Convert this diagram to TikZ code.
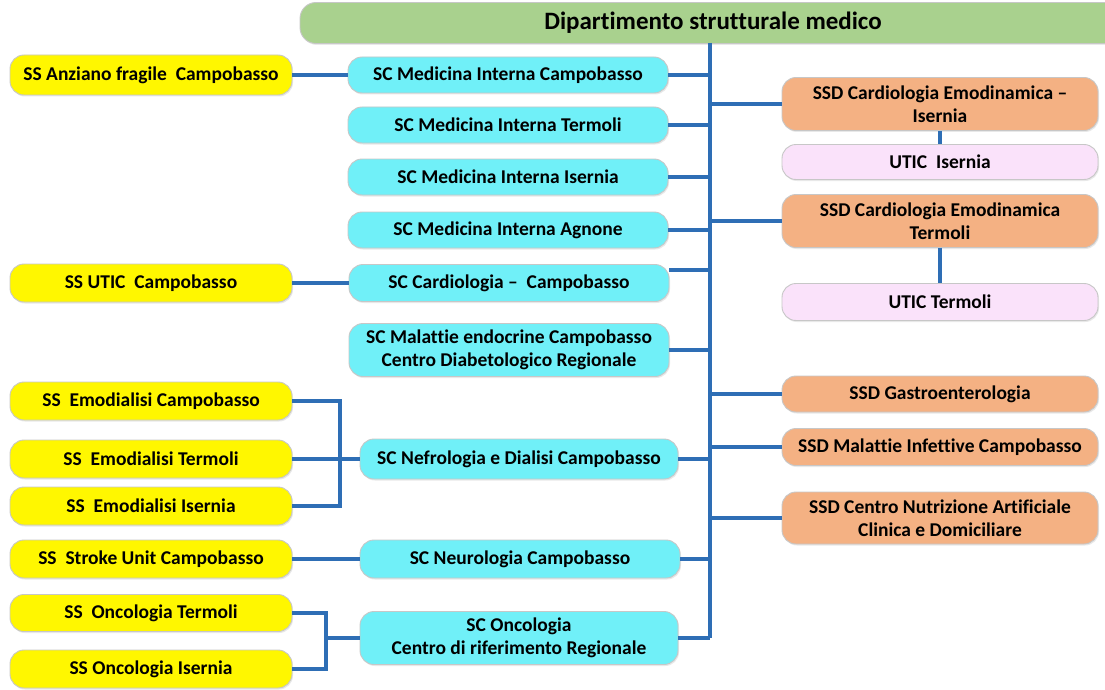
\documentclass[tikz,border=0pt]{standalone}
\usepackage{fontspec}
\setmainfont{Carlito}[Ligatures=NoCommon]
\usetikzlibrary{shadows}

\definecolor{hdrgreen}{RGB}{169,209,142}
\definecolor{ssyellow}{RGB}{255,247,0}
\definecolor{sccyan}{RGB}{112,240,248}
\definecolor{ssdorange}{RGB}{244,177,131}
\definecolor{uticpink}{RGB}{250,226,250}
\definecolor{linkblue}{RGB}{46,110,181}

\tikzset{
  unit/.style={rounded corners=14pt, draw=black!22, line width=0.9pt,
    font=\bfseries\fontsize{19.5}{22.5}\selectfont, align=center, inner sep=0pt,
    drop shadow={opacity=0.18, shadow xshift=1pt, shadow yshift=-1.5pt}},
  ssbox/.style={unit, fill=ssyellow, minimum width=282pt},
  scbox/.style={unit, fill=sccyan, minimum width=320pt},
  ssdbox/.style={unit, fill=ssdorange, minimum width=316pt},
  uticbox/.style={unit, fill=uticpink, minimum width=316pt},
  link/.style={draw=linkblue, line width=3.2pt}
}

\begin{document}
\begin{tikzpicture}[x=1pt, y=-1pt]
\useasboundingbox[fill=white] (0,0) rectangle (1105,690);

% department header
\node[unit, fill=hdrgreen, rounded corners=16pt, minimum width=826pt, minimum height=41pt,
      font=\bfseries\fontsize{25}{28}\selectfont] (hdr) at (713,23) {Dipartimento strutturale medico};

% trunk end points
\coordinate (tt) at (710,43);

% structures (SC)
\node[scbox, minimum height=36pt] (c1) at (508,75)  {SC Medicina Interna Campobasso};
\node[scbox, minimum height=36pt] (c2) at (508,125) {SC Medicina Interna Termoli};
\node[scbox, minimum height=36pt] (c3) at (508,177) {SC Medicina Interna Isernia};
\node[scbox, minimum height=36pt] (c4) at (508,230) {SC Medicina Interna Agnone};
\node[scbox, minimum height=37pt] (c5) at (509,283) {SC Cardiologia --\ \ Campobasso};
\node[scbox, minimum height=53pt] (c6) at (509,350) {SC Malattie endocrine Campobasso\\Centro Diabetologico Regionale};
\node[scbox, minimum height=40pt, minimum width=318pt] (c7) at (519,459) {SC Nefrologia e Dialisi Campobasso};
\node[scbox, minimum height=38pt] (c8) at (520,559) {SC Neurologia Campobasso};
\node[scbox, minimum height=53pt, minimum width=318pt] (c9) at (519,638) {SC Oncologia\\Centro di riferimento Regionale};

% simple structures (SS)
\node[ssbox, minimum height=40pt] (s1) at (151,75)  {SS Anziano fragile\ \ Campobasso};
\node[ssbox, minimum height=38pt] (s2) at (151,283) {SS UTIC\ \ Campobasso};
\node[ssbox, minimum height=38pt] (s3) at (151,401) {SS\ \ Emodialisi Campobasso};
\node[ssbox, minimum height=38pt] (s4) at (151,459) {SS\ \ Emodialisi Termoli};
\node[ssbox, minimum height=38pt] (s5) at (151,506) {SS\ \ Emodialisi Isernia};
\node[ssbox, minimum height=38pt] (s6) at (151,559) {SS\ \ Stroke Unit Campobasso};
\node[ssbox, minimum height=37pt] (s7) at (151,613) {SS\ \ Oncologia Termoli};
\node[ssbox, minimum height=38pt] (s8) at (151,669) {SS Oncologia Isernia};

% departmental simple structures (SSD) and UTIC
\node[ssdbox, minimum height=53pt] (d1) at (940,104) {SSD Cardiologia Emodinamica --\\Isernia};
\node[uticbox, minimum height=35pt] (u1) at (940,162) {UTIC\ \ Isernia};
\node[ssdbox, minimum height=53pt] (d2) at (940,221) {SSD Cardiologia Emodinamica\\Termoli};
\node[uticbox, minimum height=37pt] (u2) at (940,302) {UTIC Termoli};
\node[ssdbox, minimum height=36pt] (d3) at (940,394) {SSD Gastroenterologia};
\node[ssdbox, minimum height=37pt] (d4) at (940,447) {SSD Malattie Infettive Campobasso};
\node[ssdbox, minimum height=52pt] (d5) at (940,518) {SSD Centro Nutrizione Artificiale\\Clinica e Domiciliare};

% bracket columns and special anchors
\coordinate (bn) at (340,459);
\coordinate (bo) at (326,638);
\coordinate (c5r) at ([yshift=13pt]c5.east);
\coordinate (tb) at (c9.east -| tt);

% trunk and branches
\draw[link] (tt) -- (tb);
\foreach \n in {c1,c2,c3,c4,c6,c7,c8} \draw[link] (\n.east) -- (\n.east -| tt);
\draw[link] (c5r) -- (c5r -| tt);
\draw[link] (c9.east) -- (tb);
\foreach \n in {d1,d2,d3,d4,d5} \draw[link] (\n.west -| tt) -- (\n.west);
\draw[link] (d1.south) -- (u1.north);
\draw[link] (d2.south) -- (u2.north);

% SS to SC links
\draw[link] (s1.east) -- (c1.west);
\draw[link] (s2.east) -- (c5.west);
\draw[link] (s6.east) -- (c8.west);
\draw[link] (s3.east) -- (s3.east -| bn) -- (s5.east -| bn) -- (s5.east);
\draw[link] (s4.east) -- (c7.west);
\draw[link] (s7.east) -- (s7.east -| bo) -- (s8.east -| bo) -- (s8.east);
\draw[link] (bo) -- (c9.west);
\end{tikzpicture}
\end{document}
